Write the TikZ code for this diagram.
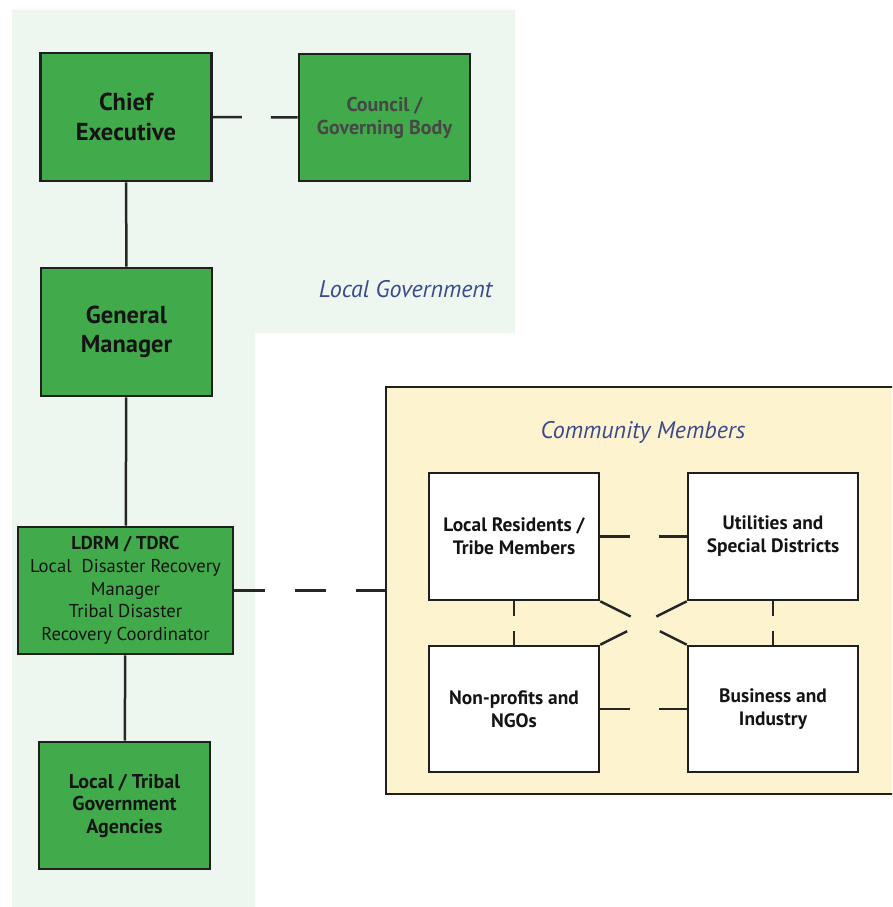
\documentclass[tikz,border=0pt]{standalone}
\usepackage{fontspec}
\setmainfont{PT Sans}
\begin{document}
\begin{tikzpicture}[x=1pt,y=-1pt,
  govbox/.style={draw=black!88,line width=2.6pt,fill=govgreen,inner sep=0pt,align=center,text=black!92},
  combox/.style={draw=black!88,line width=2.6pt,fill=white,inner sep=0pt,align=center,text=black!92,
    minimum width=170pt,minimum height=127pt,font=\bfseries\fontsize{19.4}{23}\selectfont},
  link/.style={draw=black!85,line width=2.5pt},
  region/.style={font=\itshape\fontsize{24}{28}\selectfont,text=regionblue}]
\definecolor{govgreen}{HTML}{41AA4A}
\definecolor{govbg}{HTML}{EEF6F0}
\definecolor{combg}{HTML}{FEF3CF}
\definecolor{regionblue}{HTML}{3B4A8C}
\clip (0,0) rectangle (892,907);
\useasboundingbox (0,0) rectangle (892,907);
\fill[white] (0,0) rectangle (892,907);

% local government area
\fill[govbg] (12,10) -- (515,10) -- (515,333) -- (255,333) -- (255,907) -- (12,907) -- cycle;
\node[region,anchor=base east] (lgov) at (496,297) {Local Government};

% community area
\node[draw=black!88,line width=2.6pt,fill=combg,minimum width=519pt,minimum height=407pt,inner sep=0pt]
  (community) at (645.5,590.5) {};
\node[region,anchor=base] (cmem) at (643,438) {Community Members};

% local government chain
\node[govbox,minimum width=171pt,minimum height=128pt,font=\bfseries\fontsize{24.5}{29.5}\selectfont]
  (chief) at (126,117) {Chief\\Executive};
\node[govbox,minimum width=171pt,minimum height=127pt,font=\bfseries\fontsize{20}{23}\selectfont,text=black!72]
  (council) at (384.5,117.5) {Council /\\Governing Body};
\node[govbox,minimum width=171pt,minimum height=128pt,font=\bfseries\fontsize{24.5}{29.5}\selectfont]
  (gm) at (126.5,332) {General\\Manager};
\node[govbox,minimum width=215pt,minimum height=127pt,font=\fontsize{18.6}{22.7}\selectfont]
  (ldrm) at (125.5,590.5) {\textbf{LDRM / TDRC}\\Local\ \ Disaster Recovery\\Manager\\Tribal Disaster\\Recovery Coordinator};
\node[govbox,minimum width=171pt,minimum height=127pt,font=\bfseries\fontsize{20}{22.5}\selectfont]
  (agencies) at (124.5,805.5) {Local / Tribal\\Government\\Agencies};

\draw[link] (chief) -- (gm);
\draw[link] (gm) -- (ldrm);
\draw[link] (ldrm) -- (agencies);
\draw[link,dash pattern=on 29pt off 29pt] (chief.east) -- (council.west);
\draw[link,dash pattern=on 31pt off 30pt] (ldrm.east) -- (community.west);

% community members
\node[combox] (residents) at (514,536.5) {Local Residents /\\Tribe Members};
\node[combox] (utilities) at (773,536.5) {Utilities and\\Special Districts};
\node[combox,minimum height=126pt] (nonprofits) at (514,709) {Non-profits and\\NGOs};
\node[combox,minimum height=126pt] (business) at (773,709) {Business and\\Industry};

\draw[link,dash pattern=on 30pt off 29pt] (residents.east) -- (utilities.west);
\draw[link,dash pattern=on 30pt off 29pt] (nonprofits.east) -- (business.west);
\draw[link,dash pattern=on 15pt off 15pt] (residents.south) -- (nonprofits.north);
\draw[link,dash pattern=on 15pt off 15pt] (utilities.south) -- (business.north);
\draw[link,dash pattern=on 34pt off 32.6pt] (residents.south east) -- (business.north west);
\draw[link,dash pattern=on 34pt off 32.6pt] (utilities.south west) -- (nonprofits.north east);
\end{tikzpicture}
\end{document}
